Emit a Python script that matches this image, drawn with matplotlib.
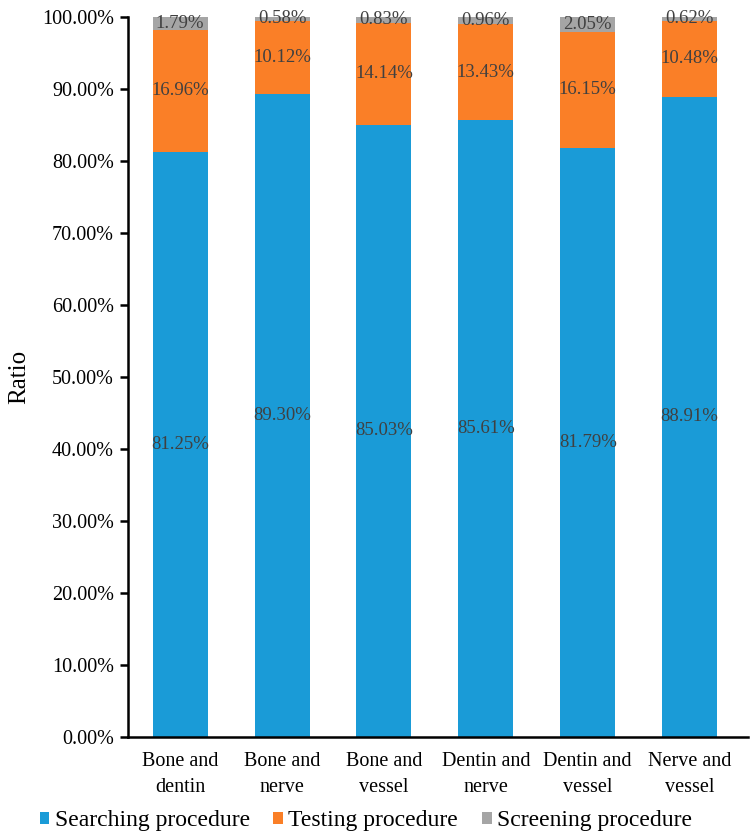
import matplotlib
matplotlib.use("Agg")
import matplotlib.pyplot as plt
import numpy as np
from matplotlib.ticker import FuncFormatter

categories = ["Bone and\ndentin", "Bone and\nnerve", "Bone and\nvessel",
              "Dentin and\nnerve", "Dentin and\nvessel", "Nerve and\nvessel"]
searching = [81.25, 89.30, 85.03, 85.61, 81.79, 88.91]
testing = [16.96, 10.12, 14.14, 13.43, 16.15, 10.48]
screening = [1.79, 0.58, 0.83, 0.96, 2.05, 0.62]
series_names = ["Searching procedure", "Testing procedure", "Screening procedure"]
colors = ["#1A9BD7", "#FA7F27", "#A5A5A5"]

plt.rcParams['font.family'] = ['Liberation Serif', 'DejaVu Serif']

fig = plt.figure(figsize=(7.51, 8.4), dpi=100)
ax = fig.add_axes([0.170, 0.1226, 0.8256, 0.8574])

x = np.arange(len(categories))
w = 0.54
bottom = np.zeros(len(categories))
for vals, name, c in zip([searching, testing, screening], series_names, colors):
    vals = np.array(vals)
    ax.bar(x, vals, w, bottom=bottom, color=c, label=name)
    for xi, b, v in zip(x, bottom, vals):
        ax.text(xi, b + v / 2, f"{v:.2f}%", ha="center", va="center",
                fontsize=13.5, color="#404040")
    bottom += vals

ax.set_xlim(-0.515, 5.57)
ax.set_ylim(0, 100)
ax.set_yticks(np.arange(0, 101, 10))
ax.yaxis.set_major_formatter(FuncFormatter(lambda v, p: f"{v:.2f}%"))
ax.set_xticks(x)
ax.set_xticklabels(categories, fontsize=14.5, linespacing=1.5)
ax.tick_params(axis="y", labelsize=14.5, direction="out", length=6, width=1.8, pad=4)
ax.tick_params(axis="x", length=0, pad=11)
for s in ["top", "right"]:
    ax.spines[s].set_visible(False)
for s in ["left", "bottom"]:
    ax.spines[s].set_linewidth(1.8)
ax.set_ylabel("Ratio", fontsize=18, labelpad=8)

leg = fig.legend(loc="lower center", bbox_to_anchor=(0.487, -0.015), ncol=3, frameon=False,
                 fontsize=17, handlelength=0.42, handleheight=0.42, handletextpad=0.22,
                 columnspacing=1.0)

fig.savefig("out.png", dpi=100)
